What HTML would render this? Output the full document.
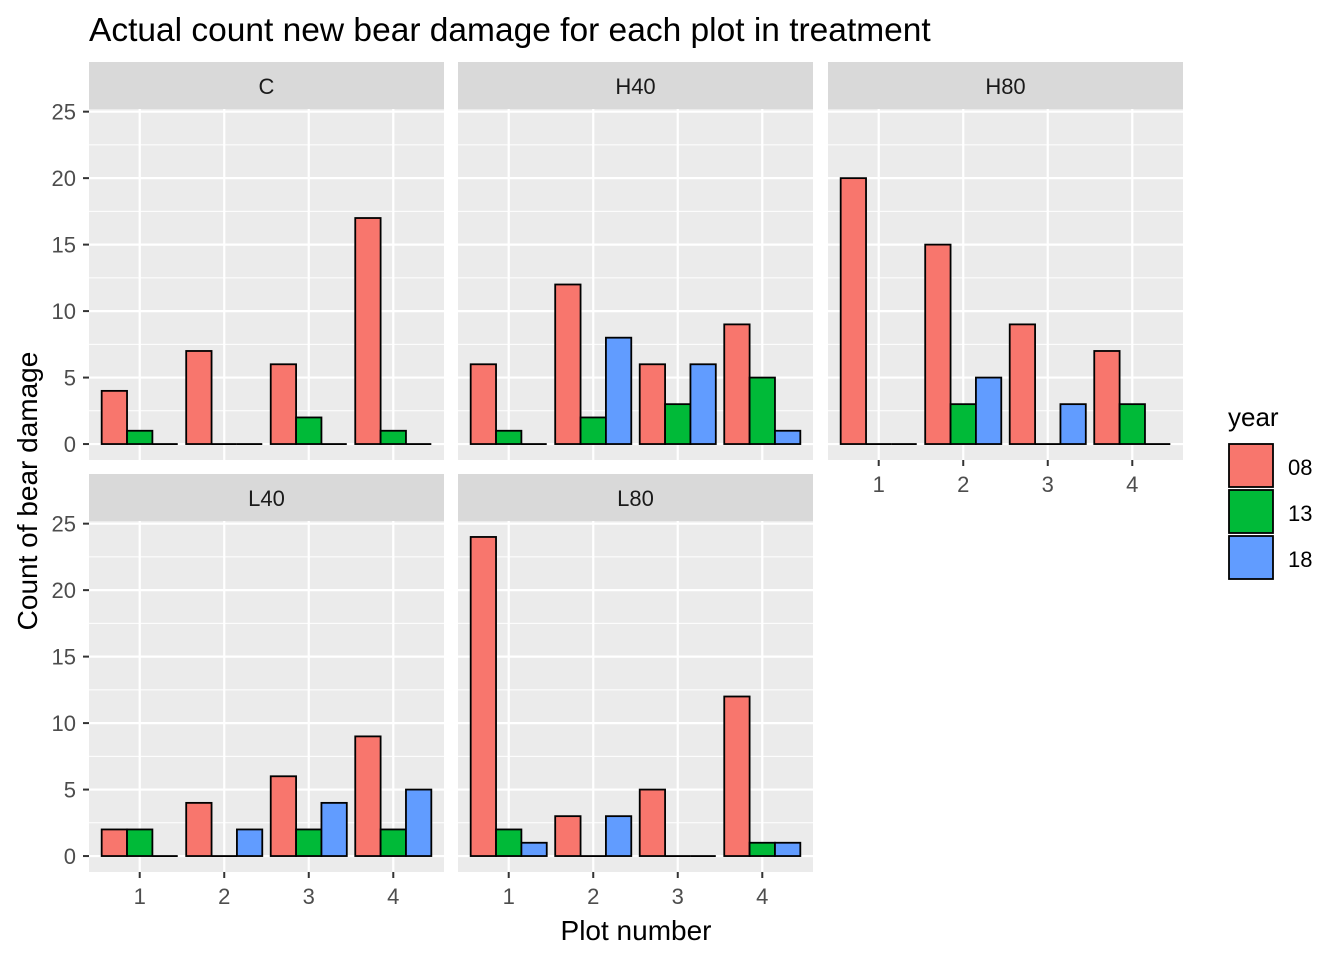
<!DOCTYPE html>
<html><head><meta charset="utf-8"><style>
html,body{margin:0;padding:0;background:#fff;}
svg text{font-family:"Liberation Sans",Arial,sans-serif;}
</style></head><body>
<svg id="chart" width="1344" height="960" xmlns="http://www.w3.org/2000/svg">
<text x="89" y="41" font-size="33.5" fill="#000">Actual count new bear damage for each plot in treatment</text>
<text x="636" y="940" font-size="28" text-anchor="middle" fill="#000">Plot number</text>
<text transform="translate(37,491) rotate(-90)" font-size="28" text-anchor="middle" fill="#000">Count of bear damage</text>
<g id="panels"></g>
<g id="legend">
<text x="1228" y="426" font-size="26" fill="#000">year</text>
</g>
</svg>
<script>
const panelNames = ["C","H40","H80","L40","L80"];
const categories = ["1","2","3","4"];
const years = ["08","13","18"];
const colors = ["#F8766D","#00BA38","#619CFF"];
const vals08 = [[4,7,6,17],[6,12,6,9],[20,15,9,7],[2,4,6,9],[24,3,5,12]];
const vals13 = [[1,0,2,1],[1,2,3,5],[0,3,0,3],[2,0,2,2],[2,0,0,1]];
const vals18 = [[0,0,0,0],[0,8,6,1],[0,5,3,0],[0,2,4,5],[1,3,0,1]];
const yTicks = [0,5,10,15,20,25];
const NS="http://www.w3.org/2000/svg";
function mk(tag,attrs,parent){const e=document.createElementNS(NS,tag);for(const k in attrs)e.setAttribute(k,attrs[k]);parent.appendChild(e);return e;}
const root=document.getElementById('panels');
const panelX=[89,458,828,89,458];
const panelY=[109,109,109,521,521];
const pw=355, ph=351;
const allVals=vals08.flat().concat(vals13.flat(),vals18.flat());
const dmax=Math.max(...allVals);
const ymax=dmax*1.05, ymin=-dmax*0.05;
function yS(v,p){return panelY[p]+ph*(ymax-v)/(ymax-ymin);}
const series=[vals08,vals13,vals18];
panelNames.forEach((nm,p)=>{
  const g=mk('g',{},root);
  
  
  const strip=mk('rect',{x:panelX[p],y:panelY[p]-47,width:pw,height:47,fill:'#D9D9D9'},g);
  
  
  const st=mk('text',{x:panelX[p]+pw/2,y:panelY[p]-15,'font-size':22,'text-anchor':'middle',fill:'#1A1A1A'},g);
  st.textContent=nm;
  
  
  mk('rect',{x:panelX[p],y:panelY[p],width:pw,height:ph,fill:'#EBEBEB'},g);
  for(let t=0;t<yTicks.length;t++){
    const v=yTicks[t];
    const ym=yS(v+2.5,p);
    if(ym>panelY[p]) mk('line',{x1:panelX[p],x2:panelX[p]+pw,y1:ym,y2:ym,stroke:'#fff','stroke-width':1},g);
    mk('line',{x1:panelX[p],x2:panelX[p]+pw,y1:yS(v,p),y2:yS(v,p),stroke:'#fff','stroke-width':2.2},g);
  }
  const step=pw/(categories.length+0.2);
  categories.forEach((c,i)=>{
    const cx=panelX[p]+step*(i+0.6);
    mk('line',{x1:cx,x2:cx,y1:panelY[p],y2:panelY[p]+ph,stroke:'#fff','stroke-width':2.2},g);
    const bw=step*0.9/3;
    series.forEach((s,k)=>{
      const v=s[p][i];
      const x0=cx-step*0.45+bw*k;
      let r;
      if(v===0){
        r=mk('line',{x1:x0,x2:x0+bw,y1:yS(0,p),y2:yS(0,p),stroke:'#000','stroke-width':1.8},g);
      } else {
        r=mk('rect',{x:x0,y:yS(v,p),width:bw,height:yS(0,p)-yS(v,p),fill:colors[k],stroke:'#000','stroke-width':1.8},g);
      }
      
      
    });
    if(p>=2){
      const ty=panelY[p]+ph;
      mk('line',{x1:cx,x2:cx,y1:ty,y2:ty+6,stroke:'#333','stroke-width':2},g);
      const tl=mk('text',{x:cx,y:ty+32,'font-size':22,'text-anchor':'middle',fill:'#4D4D4D'},g);
      tl.textContent=c;
      
      
    }
  });
  if(p===0||p===3){
    yTicks.forEach(v=>{
      const y=yS(v,p);
      mk('line',{x1:panelX[p]-6,x2:panelX[p],y1:y,y2:y,stroke:'#333','stroke-width':2},g);
      const tl=mk('text',{x:panelX[p]-13,y:y+8,'font-size':22,'text-anchor':'end',fill:'#4D4D4D'},g);
      tl.textContent=String(v);
      
      
    });
  }
});
const lg=document.getElementById('legend');
years.forEach((y,k)=>{
  const top=444+k*46;
  const r=mk('rect',{x:1229,y:top,width:44,height:43,fill:colors[k],stroke:'#000','stroke-width':1.8},lg);
  
  
  const t=mk('text',{x:1288,y:top+31,'font-size':22,fill:'#000'},lg);
  t.textContent=y;
  
  
});
</script>
</body></html>
